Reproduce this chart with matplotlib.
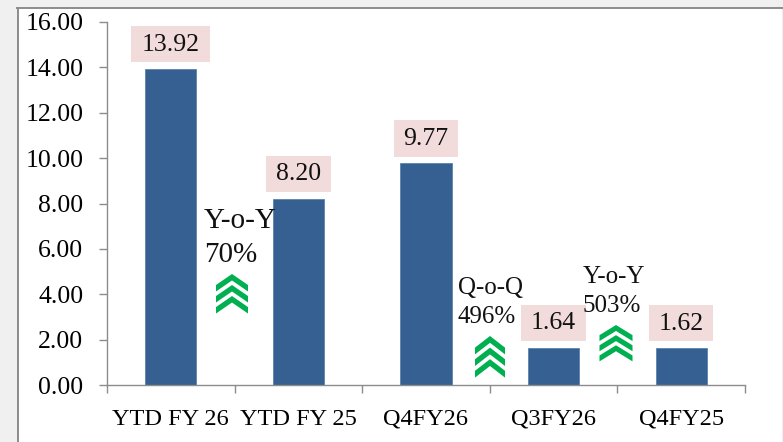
import matplotlib
matplotlib.use("Agg")
import matplotlib.pyplot as plt
from matplotlib.patches import Rectangle, Polygon
from matplotlib.lines import Line2D
from matplotlib.transforms import Affine2D

W, H = 783, 442
categories = ["YTD FY 26", "YTD FY 25", "Q4FY26", "Q3FY26", "Q4FY25"]
values = [13.92, 8.20, 9.77, 1.64, 1.62]
value_labels = ["13.92", "8.20", "9.77", "1.64", "1.62"]
y_ticks = [0, 2, 4, 6, 8, 10, 12, 14, 16]
notes = [("Y-o-Y\n70%", 204, 208, 21), ("Q-o-Q\n496%", 458, 277, 18), ("Y-o-Y\n503%", 583, 266, 18)]
chevrons = [(232, 274, 32, 38), (490, 336, 30, 40), (616, 325, 33, 35)]

plt.rcParams["font.family"] = ["Liberation Serif", "DejaVu Serif"]
fig = plt.figure(figsize=(W / 100, H / 100), dpi=100, facecolor="#f0f0f0")
px = Affine2D().scale(1, -1).translate(0, H)

fig.add_artist(Rectangle((17.5, 8), W - 18.5, H, transform=px, fc="white", ec="none", zorder=-2))
fig.add_artist(Line2D([17.5, 17.5], [8, H], transform=px, color="#8c8c8c", lw=1.4, zorder=-1))
fig.add_artist(Line2D([17, W], [8, 8], transform=px, color="#8c8c8c", lw=1.4, zorder=-1))

ax = fig.add_axes([107 / W, 1 - 385 / H, 638 / W, 363 / H])
ax.patch.set_alpha(0)
ax.bar(range(5), values, width=0.4, color="#366092", edgecolor="#5b82ad", linewidth=0.6, zorder=2)
ax.set_xlim(-0.5, 4.5)
ax.set_ylim(0, 16)
ax.set_xticks([i - 0.5 for i in range(6)])
ax.set_xticklabels([])
ax.set_xticks(range(5), minor=True)
ax.set_xticklabels(categories, minor=True, fontsize=17.5)
ax.tick_params(axis="x", which="minor", length=0, pad=17)
ax.tick_params(axis="x", which="major", length=6, width=1, color="#8c8c8c")
ax.set_yticks(y_ticks)
ax.set_yticklabels([f"{v:.2f}" for v in y_ticks], fontsize=18.5)
ax.tick_params(axis="y", length=6, width=1, color="#8c8c8c", pad=11)
for s in ("top", "right"):
    ax.spines[s].set_visible(False)
for s in ("left", "bottom"):
    ax.spines[s].set_color("#8c8c8c")
    ax.spines[s].set_linewidth(1)

for i, (v, lab) in enumerate(zip(values, value_labels)):
    w = 0.62 if len(lab) > 4 else 0.505
    ax.add_patch(Rectangle((i - w / 2, v + 0.3), w, 1.59, fc="#f2dcdb", ec="none", zorder=3))
    ax.text(i, v + 0.3 + 0.78, lab, ha="center", va="center", fontsize=18.5, color="#111111", zorder=4)

for text, x, y, fs in notes:
    fig.text(x / W, 1 - y / H, text, ha="left", va="top", fontsize=fs, color="#111111", linespacing=1.4)

for cx, top, w, h in chevrons:
    for k in range(3):
        a = h * 0.29
        b = h * 0.17
        t = top + k * a
        pts = [(cx, t), (cx + w / 2, t + a), (cx + w / 2, t + a + b), (cx, t + b), (cx - w / 2, t + a + b), (cx - w / 2, t + a)]
        fig.add_artist(Polygon(pts, closed=True, transform=px, fc="#00b050", ec="none"))

fig.savefig("out.png", dpi=100, facecolor=fig.get_facecolor())
